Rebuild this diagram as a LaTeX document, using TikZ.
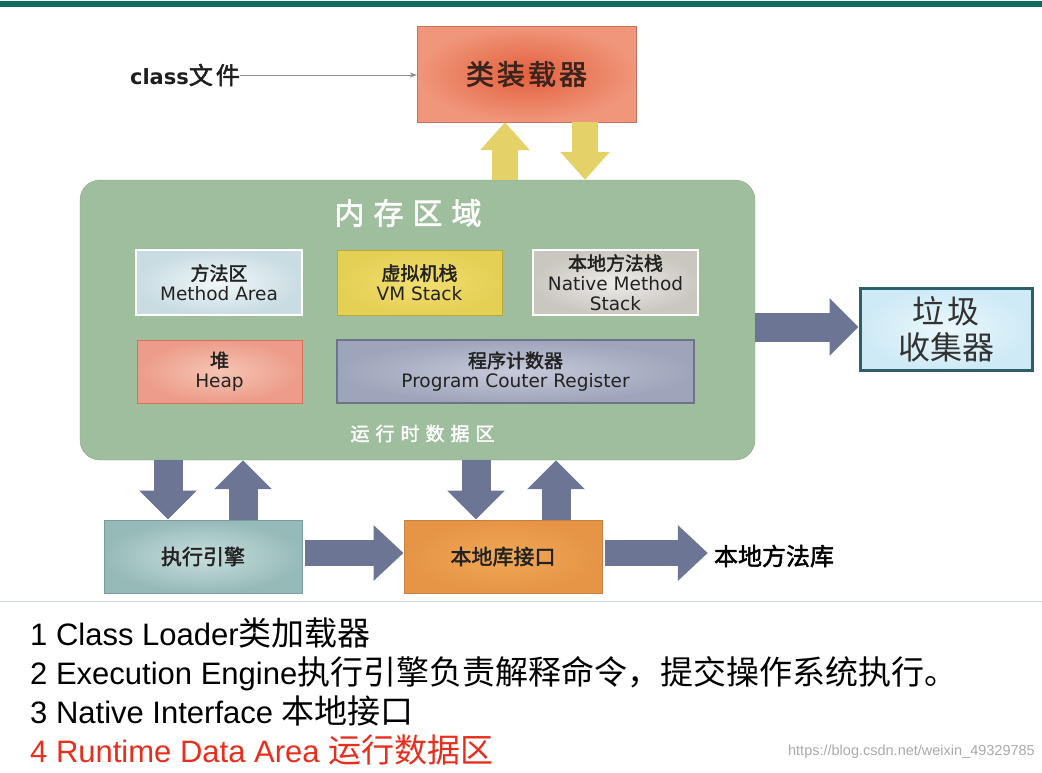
\documentclass[tikz,border=0pt]{standalone}
\usepackage{fontspec}
\setmainfont{Liberation Sans}
\newfontfamily\dvs{DejaVu Sans}
\newfontfamily\cjk[AutoFakeBold=2]{Noto Sans CJK SC}
\usetikzlibrary{arrows.meta}
\definecolor{topbar}{RGB}{12,108,96}
\definecolor{memgreen}{RGB}{158,190,157}
\definecolor{memedge}{RGB}{135,168,135}
\definecolor{barrowc}{RGB}{108,118,148}
\definecolor{yarrowc}{RGB}{228,210,104}
\definecolor{txt}{RGB}{34,34,34}
\definecolor{redtxt}{RGB}{232,46,28}
\tikzset{
  box/.style={rectangle, inner sep=0pt, align=center, text=txt},
  inbox/.style={box, font=\dvs\fontsize{18.5}{20}\selectfont},
  yarrow/.style={draw=yarrowc, line width=26pt, -{Triangle[length=28pt,width=48pt]}},
  barrow/.style={draw=barrowc, line width=29pt, -{Triangle[length=29pt,width=56pt]}},
  harrow/.style={draw=barrowc, line width=26pt, -{Triangle[length=30pt,width=54pt]}},
  listline/.style={anchor=base west, inner sep=0pt, font=\fontsize{31}{36}\selectfont},
}
\newcommand\zh[1]{{\cjk #1}}
\newcommand\zhb[1]{{\cjk\bfseries\fontsize{19}{20}\selectfont #1}}
\newcommand\zl[1]{{\cjk\fontsize{33}{36}\selectfont #1}}
\begin{document}
\begin{tikzpicture}[x=1pt,y=-1pt]
\useasboundingbox (0,0) rectangle (1042,772);
\fill[white] (0,0) rectangle (1042,772);
\fill[topbar] (0,1) rectangle (1042,6.5);
\draw[color={rgb,255:red,200;green,214;blue,222}, line width=1.2pt] (0,601.5) -- (1042,601.5);

% memory area
\node[box, draw=memedge, fill=memgreen, rounded corners=20pt, minimum width=675pt, minimum height=280pt] (mem) at (417.5,320) {};
\node[box, text=white, font=\cjk\bfseries\fontsize{30}{34}\selectfont] (memtitle) at (408,213) {内\hspace{9pt}存\hspace{9pt}区\hspace{9pt}域};
\node[box, text=white, font=\cjk\bfseries\fontsize{19}{22}\selectfont] (rtda) at (422.5,433.5) {运\hspace{6pt}行\hspace{6pt}时\hspace{6pt}数\hspace{6pt}据\hspace{6pt}区};

\node[inbox, draw=white, line width=1.5pt, inner color={rgb,255:red,242;green,247;blue,249}, outer color={rgb,255:red,200;green,220;blue,226}, minimum width=166pt, minimum height=65pt] (method) at (219,282.5) {\zhb{方法区}\\Method Area};
\node[inbox, draw={rgb,255:red,184;green,168;blue,56}, line width=1pt, inner color={rgb,255:red,242;green,222;blue,112}, outer color={rgb,255:red,228;green,208;blue,84}, minimum width=165pt, minimum height=65pt] (vm) at (419.5,282.5) {\zhb{虚拟机栈}\\VM Stack};
\node[inbox, draw=white, line width=1.5pt, inner color={rgb,255:red,238;green,236;blue,232}, outer color={rgb,255:red,202;green,198;blue,192}, minimum width=165pt, minimum height=65pt] (native) at (615.5,282.5) {\zhb{本地方法栈}\\Native Method\\Stack};
\node[inbox, draw={rgb,255:red,216;green,112;blue,88}, line width=1pt, inner color={rgb,255:red,246;green,196;blue,180}, outer color={rgb,255:red,236;green,156;blue,136}, minimum width=165pt, minimum height=63pt] (heap) at (219.5,371.5) {\zhb{堆}\\Heap};
\node[inbox, draw={rgb,255:red,108;green,116;blue,136}, line width=1.2pt, inner color={rgb,255:red,198;green,202;blue,218}, outer color={rgb,255:red,158;green,164;blue,186}, minimum width=357pt, minimum height=63pt] (pc) at (515.5,371.5) {\zhb{程序计数器}\\Program Couter Register};

% class loader
\node[box, draw={rgb,255:red,196;green,112;blue,96}, inner color={rgb,255:red,226;green,96;blue,62}, outer color={rgb,255:red,240;green,150;blue,122}, minimum width=219pt, minimum height=96pt, font=\cjk\bfseries\fontsize{28}{30}\selectfont, text={rgb,255:red,60;green,36;blue,28}] (loader) at (526.5,74) {类\hspace{3pt}装\hspace{3pt}载\hspace{3pt}器};
\node[box, text={rgb,255:red,30;green,30;blue,30}] (classf) at (185,75) {{\dvs\bfseries\fontsize{21}{24}\selectfont class}{\cjk\bfseries\fontsize{24}{24}\selectfont 文\hspace{3pt}件}};
\draw[draw={rgb,255:red,140;green,140;blue,140}, line width=0.8pt, -{Stealth[length=7pt,width=5pt]}] (classf.east) -- (loader.west |- classf.east);

\coordinate (ux) at (505,0);
\coordinate (dx) at (585,0);
\draw[yarrow] (mem.north -| ux) -- (loader.south -| ux);
\draw[yarrow] (loader.south -| dx) -- (mem.north -| dx);

% garbage collector
\node[box, draw={rgb,255:red,46;green,94;blue,104}, line width=3pt, inner color={rgb,255:red,234;green,247;blue,252}, outer color={rgb,255:red,206;green,234;blue,246}, minimum width=172pt, minimum height=82pt, font=\cjk\fontsize{32}{36}\selectfont, text={rgb,255:red,50;green,50;blue,50}] (gc) at (946,329) {垃\hspace{4pt}圾\\收集器};
\coordinate (gy) at (0,327);
\draw[barrow] (mem.east |- gy) -- (gc.west |- gy);

% bottom boxes
\node[box, draw={rgb,255:red,122;green,156;blue,156}, line width=1pt, inner color={rgb,255:red,200;green,222;blue,220}, outer color={rgb,255:red,150;green,186;blue,184}, minimum width=198pt, minimum height=73pt, font=\cjk\bfseries\fontsize{21}{24}\selectfont] (exec) at (203,556.5) {执行引擎};
\node[box, draw={rgb,255:red,200;green,128;blue,64}, line width=1pt, inner color={rgb,255:red,240;green,168;blue,84}, outer color={rgb,255:red,230;green,148;blue,70}, minimum width=198pt, minimum height=73pt, font=\cjk\bfseries\fontsize{21}{24}\selectfont] (nif) at (503,556.5) {本地库接口};
\node[box, font=\cjk\bfseries\fontsize{24}{26}\selectfont, text=black] (nlib) at (774,556) {本地方法库};

\coordinate (b1) at (168,0);
\coordinate (b2) at (243,0);
\coordinate (b3) at (476,0);
\coordinate (b4) at (556,0);
\coordinate (hy) at (0,553);
\draw[barrow] (mem.south -| b1) -- (exec.north -| b1);
\draw[barrow] (exec.north -| b2) -- (mem.south -| b2);
\draw[barrow] (mem.south -| b3) -- (nif.north -| b3);
\draw[barrow] (nif.north -| b4) -- (mem.south -| b4);
\draw[harrow] ([xshift=2pt]exec.east |- hy) -- (nif.west |- hy);
\draw[harrow] ([xshift=2pt]nif.east |- hy) -- ([xshift=-6pt]nlib.west |- hy);

% list
\node[listline] (l1) at (30,645) {1 Class Loader\zl{类加载器}};
\node[listline] (l2) at (30,684) {2 Execution Engine\zl{执行引擎负责解释命令，提交操作系统执行。}};
\node[listline] (l3) at (30,723) {3 Native Interface \zl{本地接口}};
\node[listline, text=redtxt] (l4) at (30,762) {4 Runtime Data Area \zl{运行数据区}};
\node[anchor=east, inner sep=0pt, font=\fontsize{14.5}{16}\selectfont, text={rgb,255:red,170;green,170;blue,170}] (wm) at (1035,752) {https://blog.csdn.net/weixin\_49329785};
\end{tikzpicture}
\end{document}
